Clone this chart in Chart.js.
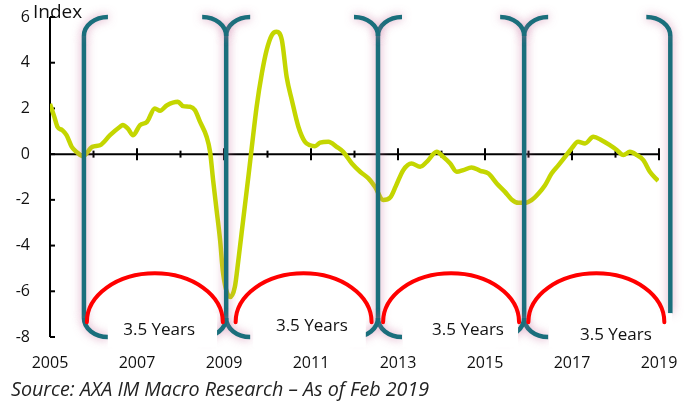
<!DOCTYPE html>
<html><head><meta charset="utf-8">
<script src="https://cdn.jsdelivr.net/npm/chart.js@4.4.1/dist/chart.umd.min.js"></script>
<style>html,body{margin:0;padding:0;background:#fff;}#wrap{width:689px;height:403px;}</style>
</head><body><div id="wrap"><canvas id="c" width="689" height="403"></canvas></div>
<script>
// ---- data ----
const years = [2005.00,2005.10,2005.17,2005.28,2005.38,2005.50,2005.61,2005.76,2005.97,2006.15,2006.38,2006.61,2006.67,2006.79,2006.91,2007.07,2007.23,2007.41,2007.53,2007.69,2007.94,2008.06,2008.22,2008.33,2008.45,2008.60,2008.68,2008.75,2008.83,2008.91,2008.98,2009.14,2009.25,2009.33,2009.44,2009.56,2009.64,2009.75,2009.87,2009.98,2010.10,2010.21,2010.33,2010.44,2010.56,2010.71,2010.86,2010.98,2011.09,2011.21,2011.40,2011.59,2011.74,2011.94,2012.13,2012.32,2012.47,2012.66,2012.82,2012.95,2013.12,2013.31,2013.51,2013.66,2013.89,2014.04,2014.20,2014.35,2014.50,2014.69,2014.89,2015.08,2015.27,2015.46,2015.61,2015.77,2015.92,2016.07,2016.23,2016.38,2016.53,2016.69,2016.84,2016.99,2017.14,2017.30,2017.49,2017.68,2017.87,2018.03,2018.18,2018.33,2018.49,2018.64,2018.79,2018.98];
const indexValues = [2.2,1.63,1.2,1.05,0.83,0.32,0.1,-0.09,0.32,0.39,0.83,1.2,1.27,1.12,0.83,1.27,1.41,2.0,1.9,2.14,2.29,2.1,2.07,1.93,1.41,0.76,0.1,-1.14,-2.45,-3.76,-5.22,-6.25,-5.8,-4.64,-2.89,-0.99,0.32,2.07,3.53,4.55,5.21,5.35,4.99,3.38,2.36,1.2,0.54,0.39,0.35,0.5,0.54,0.32,0.1,-0.41,-0.77,-1.06,-1.43,-2.01,-1.9,-1.4,-0.7,-0.41,-0.55,-0.34,0.1,-0.12,-0.41,-0.77,-0.7,-0.58,-0.73,-0.85,-1.28,-1.65,-1.98,-2.13,-2.13,-2.01,-1.72,-1.36,-0.85,-0.48,-0.12,0.25,0.54,0.47,0.76,0.61,0.39,0.18,-0.04,0.1,-0.04,-0.26,-0.77,-1.17];
const xTickYears = [2005,2007,2009,2011,2013,2015,2017,2019];
const axisTickYears = [2005,2006,2007,2008,2009,2010,2011,2012,2013,2014,2015,2016,2017,2018,2019];
const yTickValues = [-8,-6,-4,-2,0,2,4,6];
// annotations (data units)
const bracketYears = [2005.78,2009.05,2012.54,2015.90,2019.26];
const bracketBottomValues = [-8,-8,-8,-8,-6.96];
const arcCenterYears = [2007.41,2010.83,2014.22,2017.56];
const periodLabels = ['3.5 Years','3.5 Years','3.5 Years','3.5 Years'];
const labelYears = [2007.51,2011.02,2014.61,2018.01];
const labelValues = [-7.70,-7.53,-7.70,-7.92];
const boxStartYears = [2006.33,2009.67,2013.11,2016.47];
const boxEndYears = [2008.84,2012.26,2015.76,2019.30];
const axisTitle = 'Index';
const sourceText = 'Source: AXA IM Macro Research \u2013 As of Feb 2019';

const FONT = '"Open Sans", "DejaVu Sans", sans-serif';

const decor = {
  id: 'decor',
  beforeDatasetsDraw(chart) {
    const {ctx, scales: {x, y}} = chart;
    const y0 = y.getPixelForValue(0);
    ctx.save();
    ctx.strokeStyle = '#000';
    ctx.lineWidth = 2;
    ctx.beginPath(); ctx.moveTo(x.left, y.top); ctx.lineTo(x.left, y.bottom); ctx.stroke();
    for (const v of yTickValues) {
      const py = y.getPixelForValue(v);
      ctx.beginPath(); ctx.moveTo(x.left, py); ctx.lineTo(x.left + 5, py); ctx.stroke();
    }
    ctx.beginPath(); ctx.moveTo(x.left, y0); ctx.lineTo(x.right, y0); ctx.stroke();
    for (const yr of axisTickYears) {
      const px = x.getPixelForValue(yr);
      const h = (yr % 2) ? 6 : 3.5;
      ctx.beginPath(); ctx.moveTo(px, y0 - h); ctx.lineTo(px, y0 + h); ctx.stroke();
    }
    ctx.restore();
  },
  afterDraw(chart) {
    const {ctx, scales: {x, y}} = chart;
    const X = v => x.getPixelForValue(v), Y = v => y.getPixelForValue(v);
    const top = Y(6);
    const rx = 24, ry = 19;
    ctx.save();
    ctx.strokeStyle = '#1a6f7c';
    ctx.lineWidth = 4.5;
    ctx.shadowColor = 'rgba(200,110,155,0.7)';
    ctx.shadowBlur = 10;
    bracketYears.forEach((yr, i) => {
      const px = X(yr);
      const bot = Y(bracketBottomValues[i]);
      const last = i === bracketYears.length - 1;
      const leftTop = i > 0, rightTop = !last;
      const leftBot = i > 0 && !last, rightBot = !last;
      ctx.beginPath();
      ctx.moveTo(px, top + ry);
      ctx.lineTo(px, last ? bot : bot - ry);
      ctx.stroke();
      if (rightTop) { ctx.beginPath(); ctx.ellipse(px + rx, top + ry, rx, ry, 0, Math.PI, 1.5 * Math.PI); ctx.stroke(); }
      if (leftTop) { ctx.beginPath(); ctx.ellipse(px - rx, top + ry, rx, ry, 0, 0, -0.5 * Math.PI, true); ctx.stroke(); }
      if (rightBot) { ctx.beginPath(); ctx.ellipse(px + rx, bot - ry, rx, ry, 0, Math.PI, 0.5 * Math.PI, true); ctx.stroke(); }
      if (leftBot) { ctx.beginPath(); ctx.ellipse(px - rx, bot - ry, rx, ry, 0, 0, 0.5 * Math.PI); ctx.stroke(); }
    });
    ctx.shadowColor = 'transparent';
    ctx.shadowBlur = 0;
    ctx.fillStyle = '#fff';
    boxStartYears.forEach((s, i) => {
      const x1 = X(s), x2 = X(boxEndYears[i]);
      const y1 = Y(-6.96), y2 = Y(-8.45);
      ctx.fillRect(x1, y1, x2 - x1, y2 - y1);
    });
    ctx.strokeStyle = '#ff0000';
    ctx.lineWidth = 4;
    ctx.lineCap = 'round';
    arcCenterYears.forEach(c => {
      const cx = X(c), cy = Y(-7.35);
      const arx = X(c + 1.563) - cx, ary = cy - Y(-5.21);
      ctx.beginPath(); ctx.ellipse(cx, cy, arx, ary, 0, Math.PI, 2 * Math.PI); ctx.stroke();
    });
    ctx.fillStyle = '#111';
    ctx.font = '17px ' + FONT;
    ctx.textAlign = 'center';
    ctx.textBaseline = 'middle';
    periodLabels.forEach((t, i) => ctx.fillText(t, X(labelYears[i]), Y(labelValues[i])));
    ctx.textAlign = 'left';
    ctx.textBaseline = 'alphabetic';
    ctx.font = '19px ' + FONT;
    ctx.fillText(axisTitle, 33, 18);
    ctx.font = 'italic 19.7px ' + FONT;
    ctx.fillStyle = '#222';
    ctx.fillText(sourceText, 11, 396);
    ctx.restore();
  }
};

new Chart(document.getElementById('c'), {
  type: 'line',
  data: {
    datasets: [{
      data: years.map((yr, i) => ({x: yr, y: indexValues[i]})),
      borderColor: '#c4d600',
      borderWidth: 4.5,
      pointRadius: 0,
      cubicInterpolationMode: 'monotone',
      fill: false
    }]
  },
  options: {
    responsive: false,
    animation: false,
    devicePixelRatio: 1,
    layout: {padding: {top: 17, right: 30, bottom: 0, left: 0}},
    plugins: {legend: {display: false}, tooltip: {enabled: false}},
    scales: {
      x: {
        type: 'linear', min: 2005, max: 2019,
        afterBuildTicks: s => { s.ticks = xTickYears.map(v => ({value: v})); },
        afterFit: s => { s.height = 66; s.paddingLeft = 0; s.paddingRight = 0; },
        grid: {display: false, drawTicks: false},
        border: {display: false},
        ticks: {color: '#111', font: {size: 16, family: FONT}, padding: 17, maxRotation: 0, callback: v => String(v)}
      },
      y: {
        min: -8, max: 6,
        afterBuildTicks: s => { s.ticks = yTickValues.map(v => ({value: v})); },
        afterFit: s => { s.width = 50; s.paddingTop = 0; s.paddingBottom = 0; },
        grid: {display: false, drawTicks: false},
        border: {display: false},
        ticks: {color: '#111', font: {size: 16, family: FONT}, padding: 20}
      }
    }
  },
  plugins: [decor]
});
</script></body></html>
